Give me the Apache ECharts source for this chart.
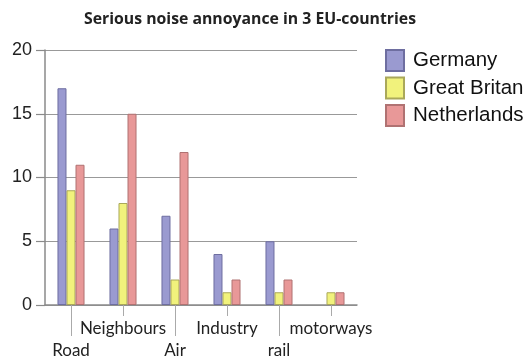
<!DOCTYPE html>
<html>
<head>
<meta charset="utf-8">
<script src="https://cdn.jsdelivr.net/npm/echarts@6/dist/echarts.min.js"></script>
<style>
  html, body { margin: 0; padding: 0; background: #fff; }
  #chart { width: 526px; height: 359px; }
</style>
</head>
<body>
<div id="chart"></div>
<script>
const categories = ['Road', 'Neighbours', 'Air', 'Industry', 'rail', 'motorways'];
const germany = [17, 6, 7, 4, 5, 0];
const greatBritan = [9, 8, 2, 1, 1, 1];
const netherlands = [11, 15, 12, 2, 2, 1];
const yTicks = [0, 5, 10, 15, 20];

const chart = echarts.init(document.getElementById('chart'));

// lower row of labels (Road, Air, rail) with long ticks, upper row with short ones
const isLow = (i) => i % 2 === 0;

function bar(name, data, fill, border) {
  return {
    name: name,
    type: 'bar',
    // a zero bar should not leave an outline behind
    data: data.map((v) => (v === 0 ? { value: v, itemStyle: { borderWidth: 0 } } : v)),
    barGap: '0%',
    barCategoryGap: '48%',
    itemStyle: { color: fill, borderColor: border, borderWidth: 1 },
    emphasis: { disabled: true },
  };
}

const labelFont = { fontFamily: 'Lato', fontSize: 17, color: '#222' };

chart.setOption({
  animation: false,
  title: {
    text: 'Serious noise annoyance in 3 EU-countries',
    left: 245,
    top: 6,
    textAlign: 'center',
    textStyle: { fontFamily: 'Open Sans', fontWeight: 'bold', fontSize: 15.8, color: '#222' },
  },
  legend: {
    orient: 'vertical',
    left: 385,
    top: 49,
    padding: 0,
    itemWidth: 18,
    itemHeight: 21,
    itemGap: 4.5,
    icon: 'rect',
    textStyle: { fontFamily: 'Liberation Sans', fontSize: 20.5, color: '#111', padding: [0, 0, 0, 4] },
    data: ['Germany', 'Great Britan', 'Netherlands'],
  },
  grid: { left: 45, right: 169, top: 50, bottom: 53 },
  xAxis: [
    {
      type: 'category',
      data: categories,
      axisLine: { lineStyle: { color: '#8a8a8a', width: 1.5 } },
      axisTick: {
        show: true,
        alignWithLabel: true,
        length: 31,
        interval: (i) => isLow(i),
        lineStyle: { color: '#aaa' },
      },
      axisLabel: Object.assign({ interval: (i) => isLow(i), margin: 37 }, labelFont),
    },
    {
      type: 'category',
      data: categories,
      position: 'bottom',
      axisLine: { show: false },
      axisTick: {
        show: true,
        alignWithLabel: true,
        length: 11,
        interval: (i) => !isLow(i),
        lineStyle: { color: '#aaa' },
      },
      axisLabel: Object.assign({ interval: (i) => !isLow(i), margin: 15 }, labelFont),
    },
  ],
  yAxis: {
    type: 'value',
    min: yTicks[0],
    max: yTicks[yTicks.length - 1],
    interval: 5,
    axisLine: { show: true, lineStyle: { color: '#8a8a8a', width: 1.5 } },
    axisTick: { show: true, length: 9, lineStyle: { color: '#8a8a8a', width: 1.2 } },
    axisLabel: { margin: 13, fontFamily: 'Liberation Sans', fontSize: 18, color: '#222' },
    splitLine: { lineStyle: { color: '#999', width: 1.2 } },
  },
  series: [
    bar('Germany', germany, '#9a9ad0', '#6e6ea0'),
    bar('Great Britan', greatBritan, '#f1f27c', '#aaa85a'),
    bar('Netherlands', netherlands, '#e89898', '#b07272'),
  ],
});
</script>
</body>
</html>
